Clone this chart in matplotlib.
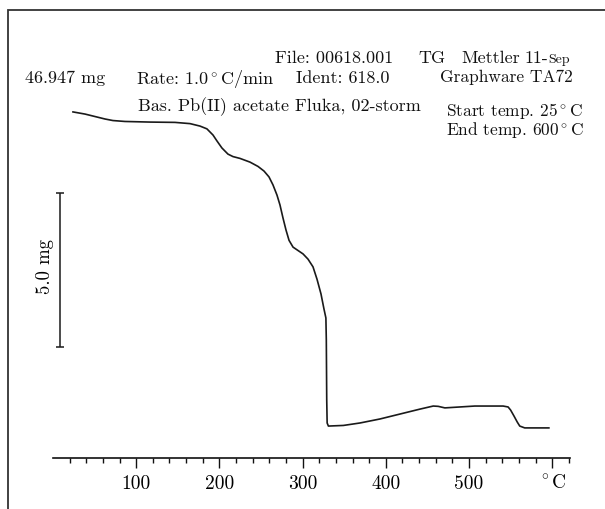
import matplotlib
matplotlib.use('Agg')
import matplotlib.pyplot as plt
from matplotlib.patches import Rectangle
from matplotlib.ticker import FixedLocator, FixedFormatter, MultipleLocator

plt.rcParams['font.family'] = ['cmr10', 'DejaVu Serif']
plt.rcParams['mathtext.fontset'] = 'cm'
plt.rcParams['axes.unicode_minus'] = False

# ---- data (temperature in °C, sample mass in mg) ----
temperature_c = [24, 38.5, 50.5, 62.5, 72, 86.5, 117, 146.6, 164.7, 176.7, 185,
                 192.3, 197, 203, 210.3, 216.3, 224.8, 236.8, 246.4, 253.6, 259.6,
                 264.4, 269.2, 272.8, 276.4, 280, 283.7, 288.5, 294.5, 300.5, 306.5,
                 312.5, 317.3, 322.1, 325.7, 328, 328.5, 329, 329.5, 331,
                 349, 369, 393, 417, 441, 457, 463, 471, 489, 507, 525, 541, 547,
                 550, 554, 558, 561, 567, 579, 596]
mass_mg = [46.95, 46.88, 46.80, 46.72, 46.67, 46.64, 46.62, 46.61, 46.57, 46.49,
           46.40, 46.20, 46.01, 45.78, 45.58, 45.50, 45.44, 45.32, 45.18, 45.03,
           44.84, 44.58, 44.25, 43.93, 43.51, 43.12, 42.78, 42.56, 42.45, 42.34,
           42.17, 41.92, 41.52, 41.04, 40.55, 40.26, 39.55, 37.60, 36.85, 36.75,
           36.77, 36.85, 36.98, 37.14, 37.30, 37.40, 37.39, 37.34, 37.37, 37.40,
           37.40, 37.40, 37.37, 37.27, 37.08, 36.88, 36.75, 36.69, 36.69, 36.69]
assert len(temperature_c) == len(mass_mg)

tick_values = [100, 200, 300, 400, 500, 600]
tick_labels = ['100', '200', '300', '400', '500', r'$^\circ$C']
minor_step = 20
scale_bar_mg = 5.0
scale_bar_bottom_mg = 39.32
scale_bar_temp = 8.4

W, H = 605, 509
fig = plt.figure(figsize=(W / 100, H / 100), dpi=100)
fig.patch.set_facecolor('white')


def fx(x):
    return x / W


def fy(y):
    return 1 - y / H


# outer frame (top and left visible, others run off the canvas)
fig.patches.append(Rectangle((fx(8), fy(520)), 1.2, (520 - 10) / H,
                             transform=fig.transFigure, fill=False,
                             edgecolor='#333333', linewidth=1.3))

x0, x1 = 0.5, 621.4
px_per_deg = 0.832
ax = fig.add_axes([fx(53 + px_per_deg * x0), fy(458),
                   px_per_deg * (x1 - x0) / W, 358 / H])
ax.set_xlim(x0, x1)
ax.set_ylim(35.713, 47.337)
ax.patch.set_alpha(0)
for s in ('left', 'top', 'right'):
    ax.spines[s].set_visible(False)
ax.spines['bottom'].set_linewidth(1.2)
ax.spines['bottom'].set_color('#111111')
ax.yaxis.set_visible(False)
ax.xaxis.set_major_locator(FixedLocator(tick_values))
ax.xaxis.set_major_formatter(FixedFormatter(tick_labels))
ax.xaxis.set_minor_locator(MultipleLocator(minor_step))
ax.tick_params(axis='x', which='major', direction='out', length=7.5, width=1.0,
               color='#111111', labelsize=14, pad=4.5)
ax.tick_params(axis='x', which='minor', direction='out', length=3.8, width=1.0,
               color='#111111')

ax.plot(temperature_c, mass_mg, color='#1a1a1a', linewidth=1.2, clip_on=False,
        solid_joinstyle='round')

# 5.0 mg scale bar
ax.errorbar([scale_bar_temp], [scale_bar_bottom_mg + scale_bar_mg / 2],
            yerr=scale_bar_mg / 2, fmt='none', ecolor='#1a1a1a',
            elinewidth=1.1, capsize=3, capthick=1.1, clip_on=False)
fig.text(fx(45), fy(267), '5.0 mg', rotation=90, ha='center', va='center',
         fontsize=13.5)

fs = 13
header = [
    (275, 63, 'File: 00618.001', fs),
    (418, 63, 'TG', fs),
    (461, 63, 'Mettler', fs),
    (524, 63, '11-', fs),
    (548, 63, 'Sep', 10),
    (25, 83, '46.947 mg', fs),
    (136, 84, r'Rate: 1.0$^\circ$C/min', fs),
    (296, 83, 'Ident: 618.0', fs),
    (440, 82, 'Graphware TA72', 12.5),
    (138, 111, 'Bas. Pb(II) acetate Fluka, 02-storm', fs),
    (446, 116, r'Start temp. 25$^\circ$C', 12.5),
    (446, 135, r'End temp. 600$^\circ$C', 12.5),
]
for x, y, s, size in header:
    fig.text(fx(x), fy(y), s, ha='left', va='baseline', fontsize=size,
             color='#111111')

fig.savefig('out.png', dpi=100, facecolor='white')
